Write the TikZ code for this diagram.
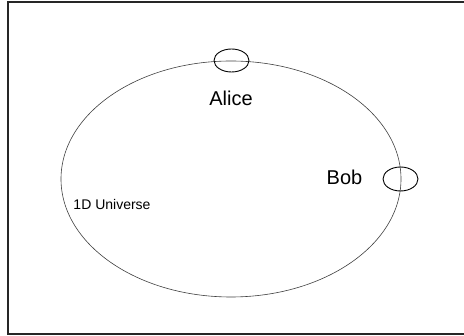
\documentclass[tikz,border=0pt]{standalone}
\usepackage{fontspec}
\setmainfont{Liberation Sans}
\usetikzlibrary{shapes.geometric}
\begin{document}
\begin{tikzpicture}[x=1pt,y=-1pt,
  frame/.style={draw=black!85,line width=1.4pt},
  world/.style={draw=black!75,line width=0.6pt},
  observer/.style={draw=black,line width=0.9pt},
  bigtxt/.style={font=\fontsize{20}{24}\selectfont,inner sep=0pt},
  smalltxt/.style={font=\fontsize{14}{17}\selectfont,inner sep=0pt}]
\useasboundingbox (0,0) rectangle (464,336);
\fill[white] (0,0) rectangle (464,336);
\draw[frame] (8,2) rectangle (466,334);
\node[world,ellipse,minimum width=340pt,minimum height=236pt,inner sep=0pt] (universe) at (231,179) {};
\node[observer,ellipse,minimum width=35pt,minimum height=23pt,inner sep=0pt] (aliceloc) at (231.5,60.5) {};
\node[observer,ellipse,minimum width=35pt,minimum height=24pt,inner sep=0pt] (bobloc) at (400.5,179) {};
\node[bigtxt] (alice) at (231,98) {Alice};
\node[bigtxt] (bob) at (344.5,177) {Bob};
\node[smalltxt] (label) at (112,205) {1D Universe};
\end{tikzpicture}
\end{document}
